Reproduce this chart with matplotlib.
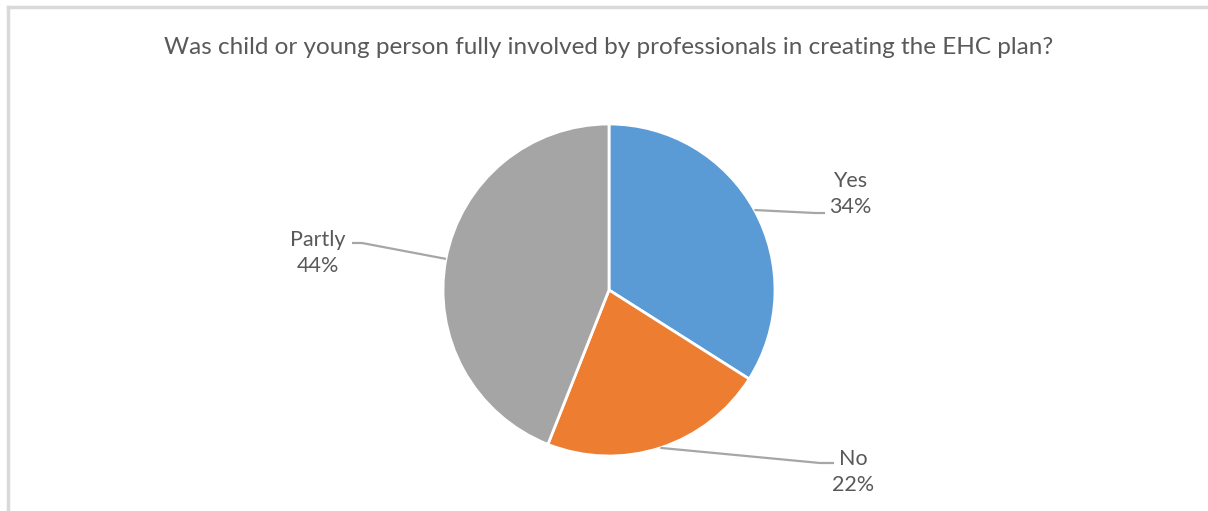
import numpy as np
import matplotlib
matplotlib.use("Agg")
import matplotlib.pyplot as plt
from matplotlib.lines import Line2D

# survey answers
labels = ["Yes", "No", "Partly"]
shares = [34, 22, 44]
colors = ["#5B9BD5", "#ED7D31", "#A5A5A5"]
title = "Was child or young person fully involved by professionals in creating the EHC plan?"

W, H = 1208, 511
TXT = "#595959"
plt.rcParams["font.family"] = ["Lato", "DejaVu Sans"]

fig = plt.figure(figsize=(W / 100, H / 100), dpi=100)
ax = fig.add_axes([0, 0, 1, 1])

# pie drawn in pixel space (y grows downward, so counterclock=True runs clockwise on screen)
cx, cy, r = 609, 290, 166
wedges, _ = ax.pie(shares, colors=colors, startangle=-90, counterclock=True,
                   center=(cx, cy), radius=r, frame=True,
                   wedgeprops=dict(edgecolor="white", linewidth=2))
ax.set_xlim(0, W)
ax.set_ylim(H, 0)
ax.set_aspect("equal")
ax.axis("off")

# label text centre and leader elbow/end for each slice
label_pos = {"Yes": (850, 194), "No": (853, 472), "Partly": (318, 253)}
leader = {"Yes": [(815, 213), (825, 213)],
          "No": [(820, 463), (834, 463)],
          "Partly": [(362, 243), (352, 243)]}

for w, lab, val in zip(wedges, labels, shares):
    mid = np.deg2rad((w.theta1 + w.theta2) / 2)
    ex, ey = cx + r * np.cos(mid), cy + r * np.sin(mid)
    pts = [(ex, ey)] + leader[lab]
    ax.plot([p[0] for p in pts], [p[1] for p in pts], color="#A6A6A6", lw=1.6,
            solid_capstyle="butt", zorder=1)
    tx, ty = label_pos[lab]
    ax.text(tx, ty, f"{lab}\n{val}%", ha="center", va="center", fontsize=15.5,
            color=TXT, linespacing=1.4)

ax.text(609, 47, title, ha="center", va="center", fontsize=17.5, color=TXT)

# chart frame: top and left edges only
ax.add_line(Line2D([8, W], [7, 7], color="#D9D9D9", lw=2.5))
ax.add_line(Line2D([8, 8], [7, H], color="#D9D9D9", lw=2.5))

fig.savefig("out.png", dpi=100)
